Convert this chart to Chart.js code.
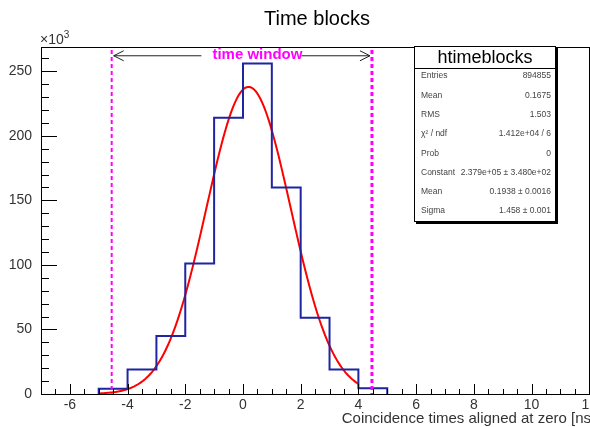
<!DOCTYPE html>
<html>
<head>
<meta charset="utf-8">
<script src="https://cdn.jsdelivr.net/npm/chart.js@4.4.1/dist/chart.umd.min.js"></script>
<style>
  html, body { margin: 0; padding: 0; background: #fff; }
  #wrap { width: 590px; height: 427px; overflow: hidden; position: relative; }
  canvas { display: block; }
</style>
</head>
<body>
<div id="wrap"><canvas id="c" width="600" height="427"></canvas></div>
<script>
// histogram bins: lower edges and contents (in units of 10^3 counts)
const binEdges = [-5, -4, -3, -2, -1, 0, 1, 2, 3, 4, 5];
const binCounts = [4, 19, 45, 101, 214, 256, 160, 59, 19, 4.5];

// gaussian fit result (constant in units of 10^3)
const fitConstant = 237.9;
const fitMean = 0.1938;
const fitSigma = 1.458;
const fitRange = [-5, 4];

// time window edges [ns]
const windowEdges = [-4.55, 4.47];

const xRange = [-7, 12];
const yRange = [0, 268.8];

const statLabels = ['Entries', 'Mean', 'RMS', 'χ² / ndf', 'Prob', 'Constant', 'Mean', 'Sigma'];
const statValues = ['894855', '0.1675', '1.503', '1.412e+04 / 6', '0', '2.379e+05 ± 3.480e+02', '0.1938 ± 0.0016', '1.458 ± 0.001'];

const FONT = '"Liberation Sans", Arial, Helvetica, sans-serif';
const TEXT = '#333';

// step outline of the histogram
const histPoints = [{ x: binEdges[0], y: 0 }];
binCounts.forEach((v, i) => histPoints.push({ x: binEdges[i], y: v }));
histPoints.push({ x: binEdges[binEdges.length - 1], y: 0 });

// fit curve sampled over its range
const fitPoints = [];
const nFit = 200;
for (let i = 0; i <= nFit; i++) {
  const x = fitRange[0] + (fitRange[1] - fitRange[0]) * i / nFit;
  const d = (x - fitMean) / fitSigma;
  fitPoints.push({ x: x, y: fitConstant * Math.exp(-0.5 * d * d) });
}

const rootDecor = {
  id: 'rootDecor',
  beforeDraw(chart) {
    const ctx = chart.ctx;
    ctx.save();
    ctx.fillStyle = '#fff';
    ctx.fillRect(0, 0, chart.width, chart.height);
    ctx.restore();
  },
  afterDatasetsDraw(chart) {
    const ctx = chart.ctx;
    const xs = chart.scales.x, ys = chart.scales.y;
    const area = chart.chartArea;
    ctx.save();

    // time window lines
    ctx.strokeStyle = '#ff00ff';
    windowEdges.forEach((w, i) => {
      const px = xs.getPixelForValue(w);
      ctx.lineWidth = i === 0 ? 2 : 3;
      ctx.setLineDash([4, 3]);
      ctx.beginPath();
      ctx.moveTo(px, area.top + 3);
      ctx.lineTo(px, area.bottom);
      ctx.stroke();
    });
    ctx.setLineDash([]);

    // double arrow with label
    const ay = ys.getPixelForValue(262);
    const ax0 = xs.getPixelForValue(windowEdges[0]) + 2;
    const ax1 = xs.getPixelForValue(windowEdges[1]) - 2;
    const labelX = xs.getPixelForValue(0.5);
    ctx.strokeStyle = '#222';
    ctx.lineWidth = 1;
    ctx.beginPath();
    ctx.moveTo(ax0, ay); ctx.lineTo(labelX - 56, ay);
    ctx.moveTo(labelX + 44, ay); ctx.lineTo(ax1, ay);
    ctx.moveTo(ax0 + 10, ay - 5); ctx.lineTo(ax0, ay); ctx.lineTo(ax0 + 10, ay + 5);
    ctx.moveTo(ax1 - 10, ay - 5); ctx.lineTo(ax1, ay); ctx.lineTo(ax1 - 10, ay + 5);
    ctx.stroke();
    ctx.fillStyle = '#ff00ff';
    ctx.font = 'bold 15px ' + FONT;
    ctx.textAlign = 'center';
    ctx.textBaseline = 'middle';
    ctx.fillText('time window', labelX, ay - 1);

    // frame
    ctx.strokeStyle = '#000';
    ctx.lineWidth = 1;
    ctx.strokeRect(Math.round(area.left) + 0.5, Math.round(area.top) + 0.5,
      Math.round(area.right - area.left), Math.round(area.bottom - area.top));

    // inward ticks, x axis
    ctx.beginPath();
    for (let v = xRange[0]; v <= xRange[1] + 1e-9; v += 0.5) {
      const px = Math.round(xs.getPixelForValue(v)) + 0.5;
      const major = Math.abs(v % 2) < 1e-9;
      ctx.moveTo(px, area.bottom);
      ctx.lineTo(px, area.bottom - (major ? 10 : 5));
    }
    // inward ticks, y axis
    for (let v = yRange[0]; v <= yRange[1]; v += 10) {
      const py = Math.round(ys.getPixelForValue(v)) + 0.5;
      const major = v % 50 === 0;
      ctx.moveTo(area.left, py);
      ctx.lineTo(area.left + (major ? 16 : 8), py);
    }
    ctx.stroke();

    // axis multiplier and title
    ctx.fillStyle = TEXT;
    ctx.textAlign = 'left';
    ctx.textBaseline = 'alphabetic';
    ctx.font = '14px ' + FONT;
    ctx.fillText('×10', area.left - 1, 44);
    const w10 = ctx.measureText('×10').width;
    ctx.font = '10px ' + FONT;
    ctx.fillText('3', area.left - 1 + w10, 38);

    ctx.font = '15px ' + FONT;
    ctx.textAlign = 'right';
    ctx.fillText('Coincidence times aligned at zero [ns]', area.right + 6, 423);

    ctx.fillStyle = '#000';
    ctx.font = '20px ' + FONT;
    ctx.textAlign = 'center';
    ctx.fillText('Time blocks', 317, 25);

    // statistics box
    const bx = 414, by = 46, bw = 142, bh = 176;
    ctx.fillStyle = '#000';
    ctx.fillRect(bx + 2, by + 2, bw, bh);
    ctx.fillStyle = '#fff';
    ctx.fillRect(bx, by, bw, bh);
    ctx.strokeStyle = '#000';
    ctx.lineWidth = 1;
    ctx.strokeRect(bx + 0.5, by + 0.5, bw - 1, bh - 1);
    ctx.beginPath();
    ctx.moveTo(bx, by + 22.5);
    ctx.lineTo(bx + bw, by + 22.5);
    ctx.stroke();
    ctx.fillStyle = '#000';
    ctx.font = '18px ' + FONT;
    ctx.textAlign = 'center';
    ctx.textBaseline = 'middle';
    ctx.fillText('htimeblocks', bx + bw / 2, by + 12);
    ctx.font = '8.5px ' + FONT;
    ctx.fillStyle = '#444';
    statLabels.forEach((lab, i) => {
      const ty = 76 + 19.3 * i;
      ctx.textAlign = 'left';
      ctx.fillText(lab, bx + 7, ty);
      ctx.textAlign = 'right';
      ctx.fillText(statValues[i], bx + bw - 5, ty);
    });

    ctx.restore();
  }
};

new Chart(document.getElementById('c'), {
  type: 'line',
  data: {
    datasets: [
      {
        label: 'htimeblocks',
        data: histPoints,
        stepped: 'before',
        borderColor: '#1f24a0',
        borderWidth: 2,
        pointRadius: 0,
        fill: false
      },
      {
        label: 'fit',
        data: fitPoints,
        borderColor: '#ff0000',
        borderWidth: 2,
        pointRadius: 0,
        tension: 0,
        fill: false
      }
    ]
  },
  options: {
    responsive: false,
    animation: false,
    devicePixelRatio: 1,
    layout: { padding: { top: 47, right: 7, left: 0, bottom: 0 } },
    plugins: { legend: { display: false }, tooltip: { enabled: false }, title: { display: false } },
    scales: {
      x: {
        type: 'linear',
        min: xRange[0],
        max: xRange[1],
        grid: { display: false, drawTicks: false },
        border: { display: false },
        ticks: {
          stepSize: 2,
          includeBounds: false,
          autoSkip: false,
          maxRotation: 0,
          padding: 3,
          color: TEXT,
          font: { family: FONT, size: 14 }
        },
        afterFit(scale) { scale.height = 33; }
      },
      y: {
        type: 'linear',
        min: yRange[0],
        max: yRange[1],
        grid: { display: false, drawTicks: false },
        border: { display: false },
        ticks: {
          stepSize: 50,
          includeBounds: false,
          padding: 9,
          color: TEXT,
          font: { family: FONT, size: 14 }
        },
        afterFit(scale) { scale.width = 41; }
      }
    }
  },
  plugins: [rootDecor]
});
</script>
</body>
</html>
